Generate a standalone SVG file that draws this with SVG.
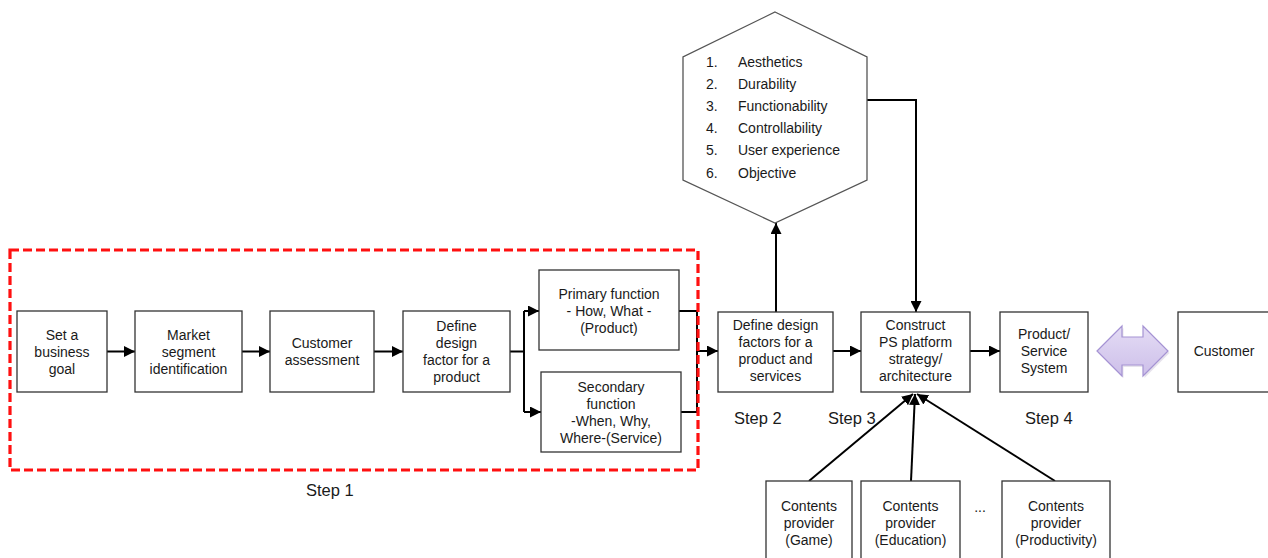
<svg xmlns="http://www.w3.org/2000/svg" width="1268" height="558" viewBox="0 0 1268 558">
<style>
.box{fill:#fff;stroke:#333;stroke-width:1.3}
.t{font-family:"Liberation Sans",Arial,sans-serif;font-size:14px;fill:#1a1a1a;text-anchor:middle}
.tl{font-family:"Liberation Sans",Arial,sans-serif;font-size:14px;fill:#1a1a1a}
.step{font-family:"Liberation Sans",Arial,sans-serif;font-size:16.5px;fill:#1a1a1a}
.c{fill:none;stroke:#000;stroke-width:2}
</style>
<defs>
<marker id="ah" viewBox="0 0 10 10" refX="10" refY="5" markerWidth="5.5" markerHeight="5.5" orient="auto" markerUnits="strokeWidth">
<path d="M0,0 L10,5 L0,10 z" fill="#000"/>
</marker>
<linearGradient id="lav" x1="0" y1="0" x2="0" y2="1">
<stop offset="0" stop-color="#e4dcf5"/>
<stop offset="1" stop-color="#cdbfe9"/>
</linearGradient>
</defs>
<rect width="1268" height="558" fill="#fff"/>

<g id="connectors">
<path class="c" d="M107 351.5 H135" marker-end="url(#ah)"/>
<path class="c" d="M242 351.5 H270" marker-end="url(#ah)"/>
<path class="c" d="M374 351.5 H403" marker-end="url(#ah)"/>
<path class="c" d="M510 351.5 H524 M524 311 V412"/>
<path class="c" d="M524 311 H539" marker-end="url(#ah)"/>
<path class="c" d="M524 412 H541" marker-end="url(#ah)"/>
<path class="c" d="M679 311 H697 V412 H681"/>
<path class="c" d="M697 351 H718" marker-end="url(#ah)"/>
<path class="c" d="M833 351 H861" marker-end="url(#ah)"/>
<path class="c" d="M970 351 H1000" marker-end="url(#ah)"/>
<path class="c" d="M776 312 V223" marker-end="url(#ah)"/>
<path class="c" d="M867 100 H916 V312" marker-end="url(#ah)"/>
<path class="c" d="M809 481 L913 394" marker-end="url(#ah)"/>
<path class="c" d="M911 481 L915 394" marker-end="url(#ah)"/>
<path class="c" d="M1055 481 L917 394" marker-end="url(#ah)"/>
</g>

<g id="step1-frame">
<rect x="10" y="250" width="688" height="220" fill="none" stroke="#ff1010" stroke-width="3.2" stroke-dasharray="9 4"/>
<text class="step" x="306" y="496">Step 1</text>
</g>

<g id="n-goal">
<rect class="box" x="17" y="311" width="90" height="81"/>
<text class="t" x="62" y="340">Set a</text>
<text class="t" x="62" y="357">business</text>
<text class="t" x="62" y="374">goal</text>
</g>
<g id="n-market">
<rect class="box" x="135" y="311" width="107" height="81"/>
<text class="t" x="188.5" y="340">Market</text>
<text class="t" x="188.5" y="357">segment</text>
<text class="t" x="188.5" y="374">identification</text>
</g>
<g id="n-customer-assess">
<rect class="box" x="270" y="311" width="104" height="81"/>
<text class="t" x="322" y="348">Customer</text>
<text class="t" x="322" y="365">assessment</text>
</g>
<g id="n-define1">
<rect class="box" x="403" y="311" width="107" height="81"/>
<text class="t" x="456.5" y="331">Define</text>
<text class="t" x="456.5" y="348">design</text>
<text class="t" x="456.5" y="365">factor for a</text>
<text class="t" x="456.5" y="382">product</text>
</g>
<g id="n-primary">
<rect class="box" x="539" y="270" width="140" height="80"/>
<text class="t" x="609" y="299">Primary function</text>
<text class="t" x="609" y="316">- How, What -</text>
<text class="t" x="609" y="333">(Product)</text>
</g>
<g id="n-secondary">
<rect class="box" x="541" y="372" width="140" height="80"/>
<text class="t" x="611" y="392">Secondary</text>
<text class="t" x="611" y="409">function</text>
<text class="t" x="611" y="426">-When, Why,</text>
<text class="t" x="611" y="443">Where-(Service)</text>
</g>
<g id="n-define2">
<rect class="box" x="718" y="312" width="115" height="80"/>
<text class="t" x="775.5" y="330">Define design</text>
<text class="t" x="775.5" y="347">factors for a</text>
<text class="t" x="775.5" y="364">product and</text>
<text class="t" x="775.5" y="381">services</text>
<text class="step" x="734" y="424">Step 2</text>
</g>
<g id="n-construct">
<rect class="box" x="861" y="312" width="109" height="80"/>
<text class="t" x="915.5" y="330">Construct</text>
<text class="t" x="915.5" y="347">PS platform</text>
<text class="t" x="915.5" y="364">strategy/</text>
<text class="t" x="915.5" y="381">architecture</text>
<text class="step" x="828" y="424">Step 3</text>
</g>
<g id="n-system">
<rect class="box" x="1000" y="312" width="88" height="80"/>
<text class="t" x="1044" y="339">Product/</text>
<text class="t" x="1044" y="356">Service</text>
<text class="t" x="1044" y="373">System</text>
<text class="step" x="1025" y="424">Step 4</text>
</g>
<g id="n-double-arrow">
<path d="M1097 351 L1122 326 V337 H1143 V326 L1168 351 L1143 376 V365 H1122 V376 Z" fill="#b8b0c8" opacity="0.35" transform="translate(1.5,2)"/>
<path d="M1097 351 L1122 326 V337 H1143 V326 L1168 351 L1143 376 V365 H1122 V376 Z" fill="url(#lav)" stroke="#a593d3" stroke-width="1.2"/>
</g>
<g id="n-customer">
<rect class="box" x="1178" y="312" width="100" height="80"/>
<text class="t" x="1224" y="356">Customer</text>
</g>
<g id="n-factors">
<polygon points="775,12 867,57 867,180 775,223 683,180 683,57" fill="#fff" stroke="#555" stroke-width="1.3"/>
<text class="tl" x="706" y="67">1.</text><text class="tl" x="738" y="67">Aesthetics</text>
<text class="tl" x="706" y="89">2.</text><text class="tl" x="738" y="89">Durability</text>
<text class="tl" x="706" y="111">3.</text><text class="tl" x="738" y="111">Functionability</text>
<text class="tl" x="706" y="133">4.</text><text class="tl" x="738" y="133">Controllability</text>
<text class="tl" x="706" y="155">5.</text><text class="tl" x="738" y="155">User experience</text>
<text class="tl" x="706" y="178">6.</text><text class="tl" x="738" y="178">Objective</text>
</g>
<g id="n-cp-game">
<rect class="box" x="766" y="481" width="86" height="90"/>
<text class="t" x="809" y="511">Contents</text>
<text class="t" x="809" y="528">provider</text>
<text class="t" x="809" y="545">(Game)</text>
</g>
<g id="n-cp-edu">
<rect class="box" x="861" y="481" width="99" height="90"/>
<text class="t" x="910.5" y="511">Contents</text>
<text class="t" x="910.5" y="528">provider</text>
<text class="t" x="910.5" y="545">(Education)</text>
</g>
<text class="t" x="980" y="512">...</text>
<g id="n-cp-prod">
<rect class="box" x="1002" y="481" width="108" height="90"/>
<text class="t" x="1056" y="511">Contents</text>
<text class="t" x="1056" y="528">provider</text>
<text class="t" x="1056" y="545">(Productivity)</text>
</g>
</svg>
